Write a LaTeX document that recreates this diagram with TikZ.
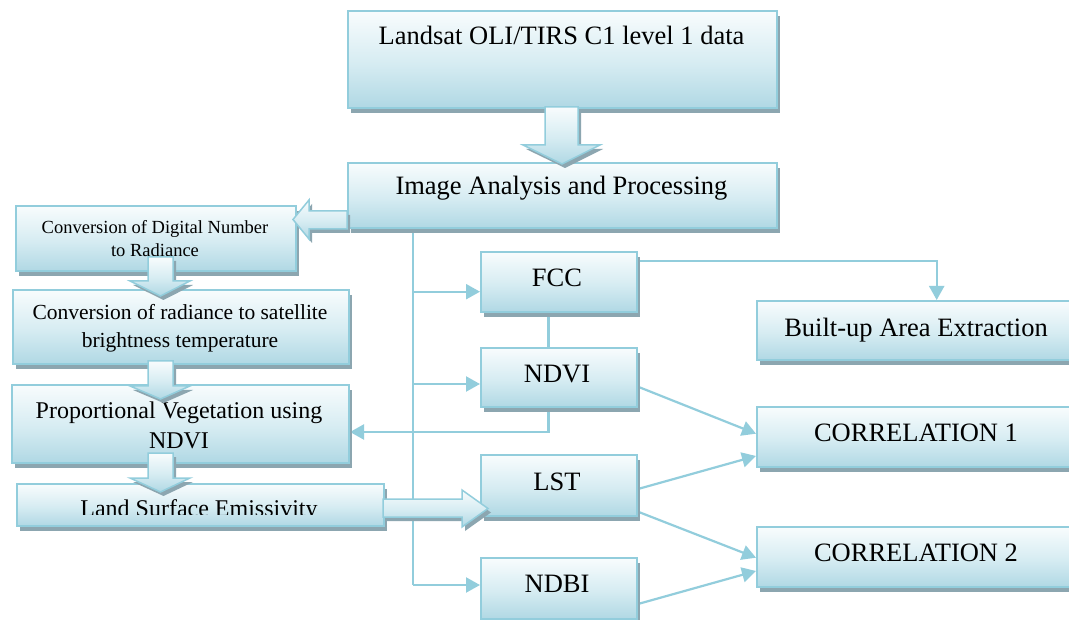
\documentclass[tikz,border=0pt]{standalone}
\usepackage{fontspec}
\setmainfont{Liberation Serif}
\usetikzlibrary{arrows.meta,shadows,calc}
\definecolor{bord}{HTML}{92CDDC}
\definecolor{btop}{HTML}{F8FCFD}
\definecolor{bmidc}{HTML}{D6ECF2}
\definecolor{bbot}{HTML}{B0D8E4}
\definecolor{shc}{HTML}{8CA6B0}
\pgfdeclareverticalshading{bx}{100bp}{color(0bp)=(bbot); color(25bp)=(bbot); color(48bp)=(bmidc); color(75bp)=(btop); color(100bp)=(btop)}
\pgfdeclarelayer{back}
\pgfdeclarelayer{bg}
\pgfsetlayers{back,bg,main}
\begin{document}
\begin{tikzpicture}[x=1pt,y=-1pt,
  box/.style={rectangle, draw=bord, line width=2pt, shading=bx, general shadow={fill=shc, shadow xshift=3pt, shadow yshift=-5pt}, inner sep=0pt, anchor=north west},
  conn/.style={draw=bord, line width=2.2pt},
  arr/.style={conn, -{Triangle[length=14pt,width=15pt]}},
  big/.style={draw=bord, line width=1.5pt, shading=bx, general shadow={fill=shc, shadow xshift=3pt, shadow yshift=-4pt}, line join=miter},
  txt/.style={anchor=base, inner sep=0pt, text=black},
  fbig/.style={font=\fontsize{26.5}{30}\selectfont},
  fmid/.style={font=\fontsize{24}{28}\selectfont},
  frad/.style={font=\fontsize{21.5}{25}\selectfont},
  fsmall/.style={font=\fontsize{18.5}{22}\selectfont}]
\begin{pgfonlayer}{back}
\fill[white] (0,0) rectangle (1069,620);
\end{pgfonlayer}
\useasboundingbox (0,0) rectangle (1069,620);

% boxes
\node[box, minimum width=429pt, minimum height=97pt] (land) at (347,10) {};
\node[box, minimum width=429pt, minimum height=65pt] (ia) at (347,162) {};
\node[box, minimum width=280pt, minimum height=65pt] (dn) at (15,205) {};
\node[box, minimum width=336pt, minimum height=74pt] (rad) at (12,289) {};
\node[box, minimum width=337pt, minimum height=78pt] (prop) at (11,384) {};
\node[box, minimum width=367pt, minimum height=42pt] (lse) at (16,483) {};
\node[box, minimum width=156pt, minimum height=60pt] (fcc) at (480,251) {};
\node[box, minimum width=156pt, minimum height=59pt] (ndvi) at (480,347) {};
\node[box, minimum width=156pt, minimum height=61pt] (lst) at (480,454) {};
\node[box, minimum width=156pt, minimum height=61pt] (ndbi) at (480,557) {};
\node[box, minimum width=330pt, minimum height=59pt] (bu) at (756,300) {};
\node[box, minimum width=330pt, minimum height=60pt] (c1) at (756,406) {};
\node[box, minimum width=330pt, minimum height=60pt] (c2) at (756,526) {};

% texts
\node[txt, fbig] (tland) at (561.5,45) {Landsat OLI/TIRS C1 level 1 data};
\node[txt, fbig] (tia) at (561.5,195) {Image Analysis and Processing};
\node[txt, fsmall] (tdn1) at (155,233.3) {Conversion of Digital Number};
\node[txt, fsmall] (tdn2) at (155,256.7) {to Radiance};
\node[txt, frad] (trad1) at (180,320) {Conversion of radiance to satellite};
\node[txt, frad] (trad2) at (180,347.3) {brightness temperature};
\node[txt, fmid] (tprop1) at (179,418.3) {Proportional Vegetation using};
\node[txt, fmid] (tprop2) at (179,449) {NDVI};
\begin{scope}
\clip (16,483) rectangle (383,514);
\node[txt, fmid] (tlse) at (199,516.5) {Land Surface Emissivity};
\end{scope}
\node[txt, fbig] (tfcc) at (557,287) {FCC};
\node[txt, fbig] (tndvi) at (557,383) {NDVI};
\node[txt, fbig] (tlst) at (557,490) {LST};
\node[txt, fbig] (tndbi) at (557,592.7) {NDBI};
\node[txt, fbig] (tbu) at (916,336.7) {Built-up Area Extraction};
\node[txt, fbig] (tc1) at (916,441.7) {CORRELATION 1};
\node[txt, fbig] (tc2) at (916,561.7) {CORRELATION 2};

% connectors (behind boxes)
\coordinate (tTop) at (412.7,227);
\coordinate (tBot) at (412.7,585);
\coordinate (b1) at (412.7,291.7);
\coordinate (b2) at (412.7,384);
\coordinate (v1) at (548.5,330);
\coordinate (v2) at (548.5,432);
\coordinate (f2) at (936.7,260.7);
\begin{pgfonlayer}{bg}
\draw[conn] (tTop) -- (tBot);
\draw[arr] (b1) -- (b1 -| fcc.west);
\draw[arr] (b2) -- (b2 -| ndvi.west);
\draw[arr] (tBot) -- (tBot -| ndbi.west);
\draw[conn] (v1 |- fcc.south) -- (v1 |- ndvi.north);
\draw[arr] (v2 |- ndvi.south) -- (v2) -- (v2 -| prop.east);
\draw[arr] (f2 -| fcc.east) -- (f2) -- (f2 |- bu.north);
\draw[arr] ([yshift=-9.2pt]ndvi.east) -- ([yshift=3.3pt]c1.west);
\draw[arr] ([yshift=-3.5pt]lst.east) -- ([yshift=-19pt]c1.west);
\draw[arr] ([yshift=-26.2pt]lst.east) -- ([yshift=-0.7pt]c2.west);
\draw[arr] ([yshift=-15.5pt]ndbi.east) -- ([yshift=-14pt]c2.west);
\end{pgfonlayer}

% block arrows
\draw[big] (545,107) -- (578,107) -- (578,145) -- (600,145) -- (562,164) -- (523,145) -- (545,145) -- cycle;
\draw[big] (347,211) -- (309,211) -- (309,200) -- (293,219.5) -- (309,239) -- (309,229) -- (347,229) -- cycle;
\draw[big] (148,257) -- (173,257) -- (173,281) -- (190,281) -- (160.5,296) -- (130,281) -- (148,281) -- cycle;
\draw[big] (148,361) -- (173,361) -- (173,386) -- (190,386) -- (160.5,399) -- (130,386) -- (148,386) -- cycle;
\draw[big] (148,453) -- (173,453) -- (173,478) -- (190,478) -- (160.5,492) -- (130,478) -- (148,478) -- cycle;
\draw[big] (383,499) -- (462,499) -- (462,490) -- (488,508.5) -- (462,527) -- (462,517) -- (383,517) -- cycle;
\end{tikzpicture}
\end{document}
